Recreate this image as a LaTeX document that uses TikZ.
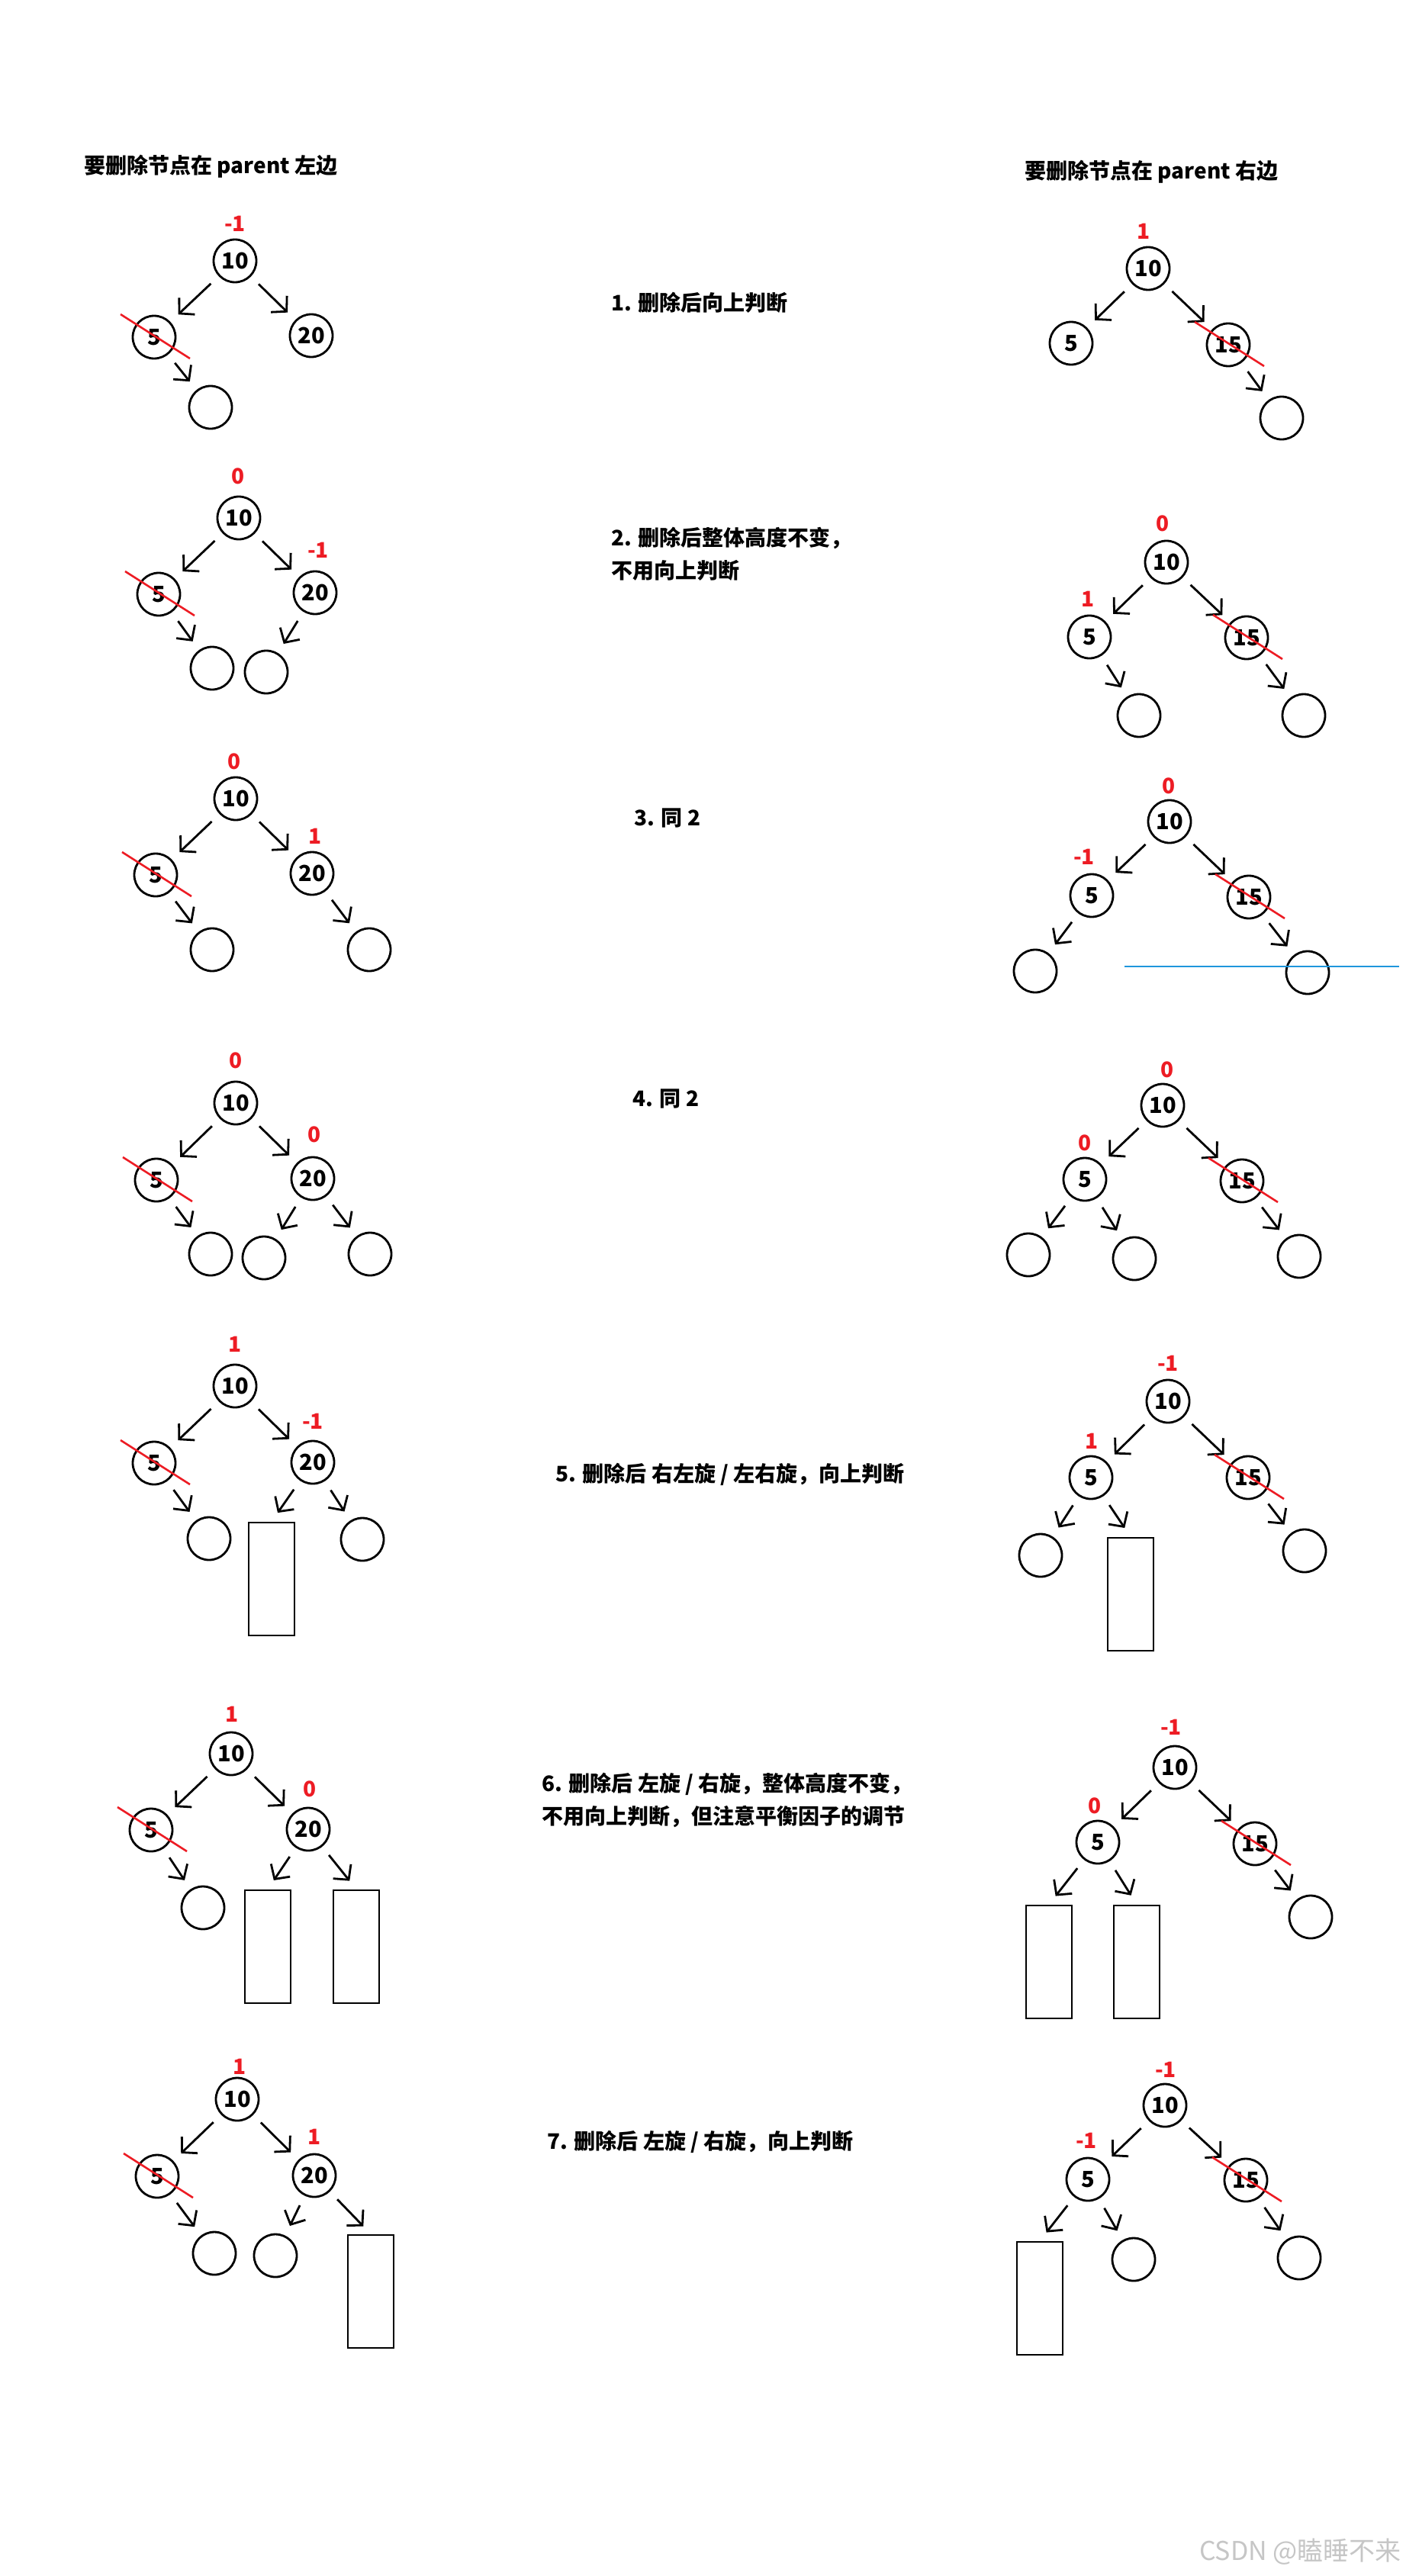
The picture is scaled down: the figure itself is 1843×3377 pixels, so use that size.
\documentclass[tikz,border=0pt]{standalone}
\usepackage{fontspec}
\setmainfont{Noto Sans CJK SC}
\usetikzlibrary{arrows.meta,calc}

\definecolor{bfred}{RGB}{237,28,36}
\definecolor{guideblue}{RGB}{30,150,220}

\begin{document}
\begin{tikzpicture}[x=1pt, y=-1pt, >={Straight Barb[length=14pt,width=30pt]},
  nd/.style={circle, draw, line width=2.8pt, minimum size=56pt, inner sep=0pt,
    font=\fontsize{29}{29}\selectfont\bfseries},
  leaf/.style={circle, draw, line width=2.8pt, minimum size=56pt, inner sep=0pt},
  subtree/.style={draw, line width=2.8pt, minimum width=60pt, minimum height=148pt, inner sep=0pt},
  bfac/.style={text=bfred, inner sep=0pt, font=\fontsize{28}{28}\selectfont\bfseries},
  memo/.style={anchor=west, inner sep=0pt, align=left, font=\fontsize{28}{43}\selectfont\bfseries},
  link/.style={->, line width=2.8pt, shorten <=14pt, shorten >=14pt},
  cut/.style={bfred, line width=2.6pt}]

  % --- 画布 (1843 x 3377) ---
  \path[use as bounding box, fill=white] (0,0) rectangle (1843,3377);

  % 1. 标题
  \node[memo] (titleL) at (110,218) {要删除节点在 parent 左边};
  \node[memo] (titleR) at (1343,225) {要删除节点在 parent 右边};

  % 2. 中间的说明文字
  \node[memo] (memo1) at (801,397) {1. 删除后向上判断};
  \node[memo] (memo2) at (801,726) {2. 删除后整体高度不变，\\不用向上判断};
  \node[memo] (memo3) at (831,1072) {3. 同 2};
  \node[memo] (memo4) at (829,1440) {4. 同 2};
  \node[memo] (memo5) at (728,1933) {5. 删除后 右左旋 / 左右旋，向上判断};
  \node[memo] (memo6) at (710,2360) {6. 删除后 左旋 / 右旋，整体高度不变，\\不用向上判断，但注意平衡因子的调节};
  \node[memo] (memo7) at (717,2808) {7. 删除后 左旋 / 右旋，向上判断};

  % 3. 左列：删除的节点在 parent 左边
  % (1)
  \node[bfac] (l1-bf)   at (308,293) {-1};
  \node[nd]   (l1-10)   at (308,342) {10};
  \node[nd]   (l1-5)    at (202,442) {5};
  \node[nd]   (l1-20)   at (408,440) {20};
  \node[leaf] (l1-e)    at (276,534) {};
  \foreach \a/\b in {10/5, 10/20, 5/e} \draw[link] (l1-\a) -- (l1-\b);

  % (2)
  \node[bfac] (l2-bf)   at (312,624) {0};
  \node[bfac] (l2-bf20) at (417,721) {-1};
  \node[nd]   (l2-10)   at (313,679) {10};
  \node[nd]   (l2-5)    at (208,779) {5};
  \node[nd]   (l2-20)   at (413,777) {20};
  \node[leaf] (l2-e1)   at (278,876) {};
  \node[leaf] (l2-e2)   at (349,881) {};
  \foreach \a/\b in {10/5, 10/20, 5/e1, 20/e2} \draw[link] (l2-\a) -- (l2-\b);

  % (3)
  \node[bfac] (l3-bf)   at (307,998) {0};
  \node[bfac] (l3-bf20) at (413,1096) {1};
  \node[nd]   (l3-10)   at (309,1047) {10};
  \node[nd]   (l3-5)    at (204,1147) {5};
  \node[nd]   (l3-20)   at (409,1145) {20};
  \node[leaf] (l3-e1)   at (278,1245) {};
  \node[leaf] (l3-e2)   at (484,1245) {};
  \foreach \a/\b in {10/5, 10/20, 5/e1, 20/e2} \draw[link] (l3-\a) -- (l3-\b);

  % (4)
  \node[bfac] (l4-bf)   at (309,1390) {0};
  \node[bfac] (l4-bf20) at (412,1487) {0};
  \node[nd]   (l4-10)   at (309,1446) {10};
  \node[nd]   (l4-5)    at (205,1547) {5};
  \node[nd]   (l4-20)   at (410,1545) {20};
  \node[leaf] (l4-e1)   at (276,1644) {};
  \node[leaf] (l4-e2)   at (346,1649) {};
  \node[leaf] (l4-e3)   at (485,1644) {};
  \foreach \a/\b in {10/5, 10/20, 5/e1, 20/e2, 20/e3} \draw[link] (l4-\a) -- (l4-\b);

  % (5)
  \node[bfac]    (l5-bf)   at (308,1762) {1};
  \node[bfac]    (l5-bf20) at (410,1863) {-1};
  \node[nd]      (l5-10)   at (308,1817) {10};
  \node[nd]      (l5-5)    at (202,1918) {5};
  \node[nd]      (l5-20)   at (410,1917) {20};
  \node[leaf]    (l5-e1)   at (274,2017) {};
  \node[subtree] (l5-t)    at (356,2070) {};
  \node[leaf]    (l5-e3)   at (475,2018) {};
  \foreach \a/\b in {10/5, 10/20, 5/e1, 20/t.north, 20/e3} \draw[link] (l5-\a) -- (l5-\b);

  % (6)
  \node[bfac]    (l6-bf)   at (304,2247) {1};
  \node[bfac]    (l6-bf20) at (406,2345) {0};
  \node[nd]      (l6-10)   at (303,2299) {10};
  \node[nd]      (l6-5)    at (198,2399) {5};
  \node[nd]      (l6-20)   at (404,2398) {20};
  \node[leaf]    (l6-e1)   at (266,2501) {};
  \node[subtree] (l6-t1)   at (351,2552) {};
  \node[subtree] (l6-t2)   at (467,2552) {};
  \foreach \a/\b in {10/5, 10/20, 5/e1, 20/t1.north, 20/t2.north} \draw[link] (l6-\a) -- (l6-\b);

  % (7)
  \node[bfac]    (l7-bf)   at (314,2709) {1};
  \node[bfac]    (l7-bf20) at (412,2801) {1};
  \node[nd]      (l7-10)   at (311,2752) {10};
  \node[nd]      (l7-5)    at (206,2853) {5};
  \node[nd]      (l7-20)   at (412,2852) {20};
  \node[leaf]    (l7-e1)   at (281,2954) {};
  \node[leaf]    (l7-e2)   at (361,2957) {};
  \node[subtree] (l7-t)    at (486,3004) {};
  \foreach \a/\b in {10/5, 10/20, 5/e1, 20/e2, 20/t.north} \draw[link] (l7-\a) -- (l7-\b);

  % 4. 右列：删除的节点在 parent 右边
  % (1)
  \node[bfac] (r1-bf)   at (1499,303) {1};
  \node[nd]   (r1-10)   at (1505,352) {10};
  \node[nd]   (r1-5)    at (1404,450) {5};
  \node[nd]   (r1-15)   at (1610,452) {15};
  \node[leaf] (r1-e)    at (1680,548) {};
  \foreach \a/\b in {10/5, 10/15, 15/e} \draw[link] (r1-\a) -- (r1-\b);

  % (2)
  \node[bfac] (r2-bf)   at (1524,686) {0};
  \node[bfac] (r2-bf5)  at (1426,785) {1};
  \node[nd]   (r2-10)   at (1529,737) {10};
  \node[nd]   (r2-5)    at (1428,835) {5};
  \node[nd]   (r2-15)   at (1634,836) {15};
  \node[leaf] (r2-e1)   at (1493,938) {};
  \node[leaf] (r2-e2)   at (1709,938) {};
  \foreach \a/\b in {10/5, 10/15, 5/e1, 15/e2} \draw[link] (r2-\a) -- (r2-\b);

  % (3)
  \node[bfac] (r3-bf)   at (1532,1030) {0};
  \node[bfac] (r3-bf5)  at (1421,1123) {-1};
  \node[nd]   (r3-10)   at (1533,1077) {10};
  \node[nd]   (r3-5)    at (1431,1174) {5};
  \node[nd]   (r3-15)   at (1637,1176) {15};
  \node[leaf] (r3-e1)   at (1357,1273) {};
  \node[leaf] (r3-e2)   at (1714,1275) {};
  \foreach \a/\b in {10/5, 10/15, 5/e1, 15/e2} \draw[link] (r3-\a) -- (r3-\b);
  % 蓝色细线
  \draw[guideblue, line width=1.5pt] (1474,1267) -- (1834,1267);

  % (4)
  \node[bfac] (r4-bf)   at (1530,1402) {0};
  \node[bfac] (r4-bf5)  at (1422,1498) {0};
  \node[nd]   (r4-10)   at (1524,1449) {10};
  \node[nd]   (r4-5)    at (1422,1546) {5};
  \node[nd]   (r4-15)   at (1628,1548) {15};
  \node[leaf] (r4-e1)   at (1348,1645) {};
  \node[leaf] (r4-e2)   at (1487,1650) {};
  \node[leaf] (r4-e3)   at (1703,1647) {};
  \foreach \a/\b in {10/5, 10/15, 5/e1, 5/e2, 15/e3} \draw[link] (r4-\a) -- (r4-\b);

  % (5)
  \node[bfac]    (r5-bf)   at (1531,1787) {-1};
  \node[bfac]    (r5-bf5)  at (1431,1889) {1};
  \node[nd]      (r5-10)   at (1531,1837) {10};
  \node[nd]      (r5-5)    at (1430,1937) {5};
  \node[nd]      (r5-15)   at (1636,1937) {15};
  \node[leaf]    (r5-e1)   at (1364,2039) {};
  \node[subtree] (r5-t)    at (1482,2090) {};
  \node[leaf]    (r5-e3)   at (1710,2033) {};
  \foreach \a/\b in {10/5, 10/15, 5/e1, 5/t.north, 15/e3} \draw[link] (r5-\a) -- (r5-\b);

  % (6)
  \node[bfac]    (r6-bf)   at (1535,2264) {-1};
  \node[bfac]    (r6-bf5)  at (1435,2367) {0};
  \node[nd]      (r6-10)   at (1540,2317) {10};
  \node[nd]      (r6-5)    at (1439,2415) {5};
  \node[nd]      (r6-15)   at (1645,2417) {15};
  \node[subtree] (r6-t1)   at (1375,2572) {};
  \node[subtree] (r6-t2)   at (1490,2572) {};
  \node[leaf]    (r6-e)    at (1718,2513) {};
  \foreach \a/\b in {10/5, 10/15, 5/t1.north, 5/t2.north, 15/e} \draw[link] (r6-\a) -- (r6-\b);

  % (7)
  \node[bfac]    (r7-bf)   at (1528,2713) {-1};
  \node[bfac]    (r7-bf5)  at (1424,2806) {-1};
  \node[nd]      (r7-10)   at (1527,2760) {10};
  \node[nd]      (r7-5)    at (1426,2857) {5};
  \node[nd]      (r7-15)   at (1633,2858) {15};
  \node[subtree] (r7-t)    at (1363,3013) {};
  \node[leaf]    (r7-e1)   at (1486,2962) {};
  \node[leaf]    (r7-e2)   at (1703,2960) {};
  \foreach \a/\b in {10/5, 10/15, 5/t.north, 5/e1, 15/e2} \draw[link] (r7-\a) -- (r7-\b);

  % 5. 删除线（红）
  \foreach \n in {l1-5, l2-5, l3-5, l4-5, l5-5, l6-5, l7-5,
                  r1-15, r2-15, r3-15, r4-15, r5-15, r6-15, r7-15}
    \draw[cut] ($(\n)+(-44,-30)$) -- ($(\n)+(47,28)$);

  % 6. 水印
  \node[anchor=east, inner sep=0pt, text=gray!45, font=\fontsize{34}{34}\selectfont]
    (mark) at (1837,3345) {CSDN @瞌睡不来};

\end{tikzpicture}
\end{document}
